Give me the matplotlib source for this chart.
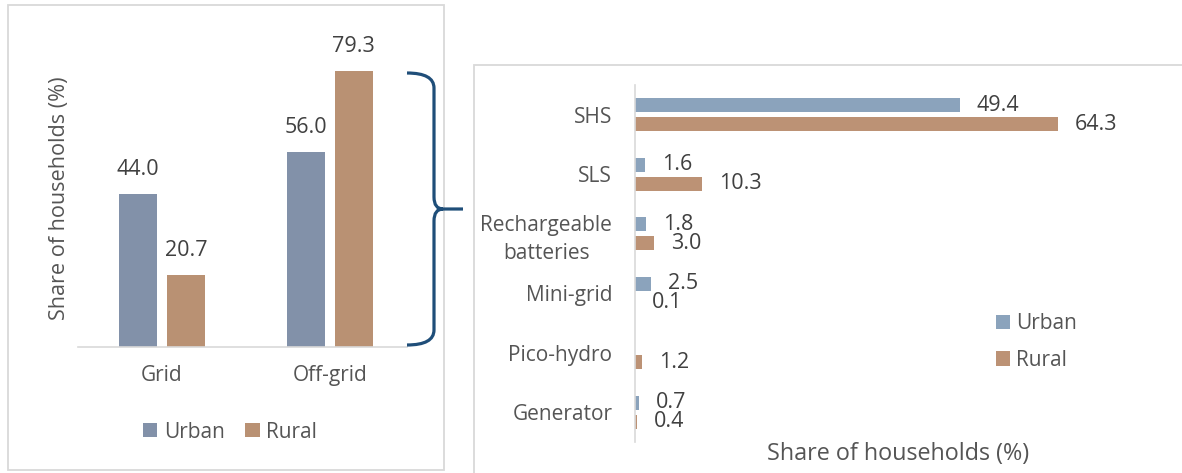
import matplotlib
matplotlib.use('Agg')
import matplotlib.pyplot as plt
from matplotlib.patches import Rectangle, PathPatch
from matplotlib.path import Path
import numpy as np

plt.rcParams['font.family'] = ['Open Sans', 'DejaVu Sans']

# ---------------- data ----------------
access_categories = ['Grid', 'Off-grid']
access_urban = [44.0, 56.0]
access_rural = [20.7, 79.3]

offgrid_categories = ['SHS', 'SLS', 'Rechargeable\nbatteries', 'Mini-grid', 'Pico-hydro', 'Generator']
offgrid_urban = [49.4, 1.6, 1.8, 2.5, None, 0.7]
offgrid_rural = [64.3, 10.3, 3.0, 0.1, 1.2, 0.4]

series_names = ['Urban', 'Rural']
axis_title = 'Share of households (%)'

# ---------------- style ----------------
W, H = 1182, 473
C_URBAN_L = '#8291a9'
C_RURAL_L = '#b99173'
C_URBAN_R = '#8ba3bc'
C_RURAL_R = '#bc9275'
C_TEXT = '#555555'
C_VAL = '#404040'
C_GRID = '#d9d9d9'
FS = 15
FS_VAL = 15.5

fig = plt.figure(figsize=(W / 100, H / 100), dpi=100)


def fx(x):
    return x / W


def fy(y):
    return 1 - y / H


# panel boxes
fig.patches.append(Rectangle((fx(8), fy(470)), fx(444) - fx(8), fy(5) - fy(470),
                             transform=fig.transFigure, fill=False, ec=C_GRID, lw=1.3))
fig.patches.append(Rectangle((fx(474), fy(490)), fx(1200) - fx(474), fy(65) - fy(490),
                             transform=fig.transFigure, fill=False, ec=C_GRID, lw=1.3))

# ---------------- left panel ----------------
ax1 = fig.add_axes([fx(78), fy(347), (407 - 78) / W, (347 - 30) / H])
x = np.arange(len(access_categories))
off, bw = 0.143, 0.226
b1 = ax1.bar(x - off, access_urban, width=bw, color=C_URBAN_L, label=series_names[0])
b2 = ax1.bar(x + off, access_rural, width=bw, color=C_RURAL_L, label=series_names[1])
for xs, vals in ((x - off, access_urban), (x + off, access_rural)):
    for xi, v in zip(xs, vals):
        ax1.annotate(f'{v:.1f}', (xi, v), xytext=(0, 13.7), textcoords='offset points',
                     ha='center', va='baseline', fontsize=FS_VAL, color=C_VAL)
ax1.set_ylim(0, 91.1)
ax1.set_xlim(-0.5, 1.46)
for s in ('top', 'left', 'right'):
    ax1.spines[s].set_visible(False)
ax1.spines['bottom'].set_color(C_GRID)
ax1.spines['bottom'].set_linewidth(1.2)
ax1.set_yticks([])
ax1.set_xticks(x, access_categories)
ax1.tick_params(axis='x', length=0, pad=13, labelsize=FS, labelcolor=C_TEXT)
ax1.set_ylabel(axis_title, fontsize=15.6, color=C_TEXT)
ax1.yaxis.set_label_coords(-0.024, 0.468)
ax1.set_facecolor('none')

fig.legend([b1, b2], series_names, loc='center', bbox_to_anchor=(fx(230), fy(432)),
           ncol=2, frameon=False, fontsize=FS, handlelength=0.68, handleheight=0.65,
           handletextpad=0.3, columnspacing=1.0, borderpad=0, labelcolor=C_TEXT)

# ---------------- right panel ----------------
ax2 = fig.add_axes([fx(634.5), fy(442), 527 / W, 357 / H])
y = np.arange(len(offgrid_categories))
roff, bh = 0.16, 0.235
u_idx = [i for i, v in enumerate(offgrid_urban) if v is not None]
u_val = [offgrid_urban[i] for i in u_idx]
h1 = ax2.barh(np.array(u_idx) - roff, u_val, height=bh, color=C_URBAN_R, label=series_names[0])
h2 = ax2.barh(y + roff, offgrid_rural, height=bh, color=C_RURAL_R, label=series_names[1])
for ys, vals in ((np.array(u_idx) - roff, u_val), (y + roff, offgrid_rural)):
    for yi, v in zip(ys, vals):
        ax2.annotate(f'{v:.1f}', (v, yi), xytext=(12, 0), textcoords='offset points',
                     ha='left', va='center', fontsize=FS_VAL, color=C_VAL)
ax2.set_xlim(0, 80)
ax2.set_ylim(5.5, -0.5)
for s in ('top', 'bottom', 'right'):
    ax2.spines[s].set_visible(False)
ax2.spines['left'].set_color(C_GRID)
ax2.spines['left'].set_linewidth(1.2)
ax2.set_xticks([])
ax2.set_yticks(y, offgrid_categories)
ax2.tick_params(axis='y', length=0, pad=16, labelsize=FS, labelcolor=C_TEXT)
for lbl in ax2.get_yticklabels():
    lbl.set_multialignment('center')
    lbl.set_linespacing(1.45)
ax2.set_xlabel(axis_title, fontsize=16.8, color=C_TEXT, labelpad=0)
ax2.set_facecolor('none')
ax2.legend([h1, h2], series_names, loc='center left', bbox_to_anchor=(fx(996), fy(342)),
           bbox_transform=fig.transFigure, ncol=1, frameon=False, fontsize=FS,
           handlelength=0.68, handleheight=0.68, handletextpad=0.3, labelspacing=0.75,
           borderpad=0, borderaxespad=0, labelcolor=C_TEXT)

# ---------------- brace ----------------
pts = [
    (Path.MOVETO, (407, 73)),
    (Path.CURVE3, (434, 73)), (Path.CURVE3, (434, 88)),
    (Path.LINETO, (434, 197)),
    (Path.CURVE3, (434, 209)), (Path.CURVE3, (443, 209)),
    (Path.LINETO, (463, 209)),
    (Path.MOVETO, (443, 209)),
    (Path.CURVE3, (434, 209)), (Path.CURVE3, (434, 221)),
    (Path.LINETO, (434, 330)),
    (Path.CURVE3, (434, 345)), (Path.CURVE3, (407, 345)),
]
codes = [c for c, _ in pts]
verts = [(fx(px), fy(py)) for _, (px, py) in pts]
fig.patches.append(PathPatch(Path(verts, codes), transform=fig.transFigure,
                             fill=False, ec='#1f4e79', lw=2.3, capstyle='butt'))

fig.savefig('out.png', dpi=100)
